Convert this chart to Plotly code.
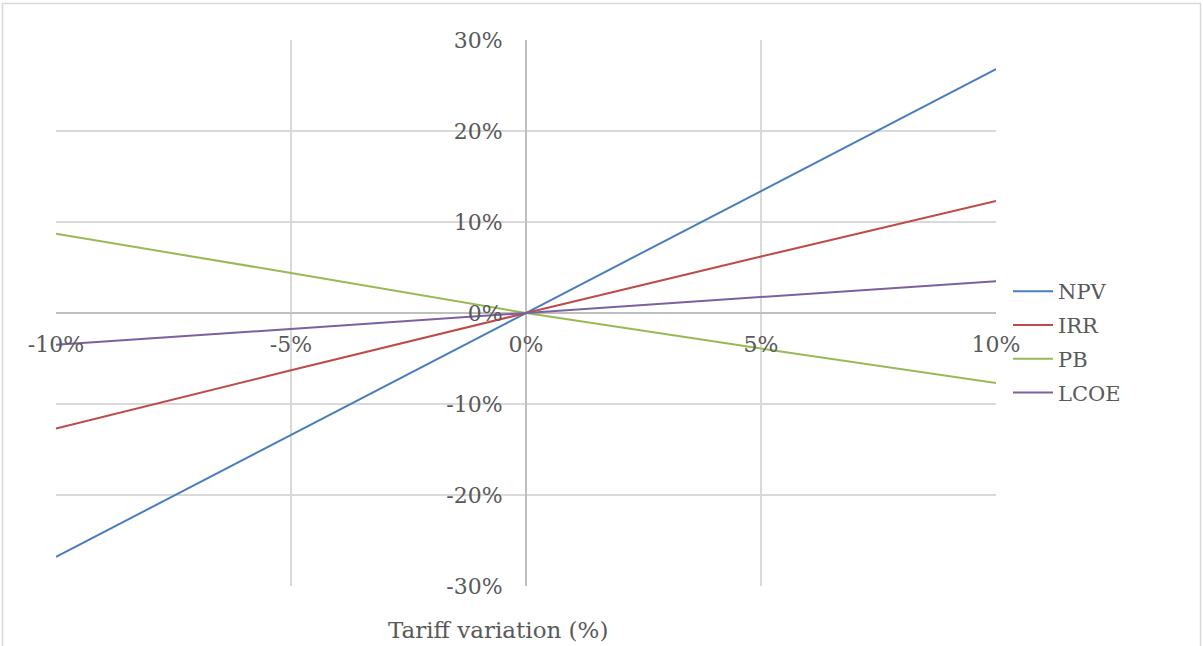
import plotly.graph_objects as go

# Tariff variation (%) and resulting change of each indicator (%)
tariff_variation = [-10, -5, 0, 5, 10]
npv = [-26.8, -13.4, 0, 13.4, 26.8]
irr = [-12.7, -6.3, 0, 6.2, 12.3]
pb = [8.7, 4.4, 0, -3.9, -7.7]
lcoe = [-3.5, -1.75, 0, 1.75, 3.5]

x_ticks = [-10, -5, 0, 5, 10]
y_ticks = [-30, -20, -10, 0, 10, 20, 30]
x_tick_text = [f"{v}%" for v in x_ticks]
y_tick_text = [f"{v}%" for v in y_ticks]

series = [
    ("NPV", npv, "#4A7EBB"),
    ("IRR", irr, "#BE4B48"),
    ("PB", pb, "#98B954"),
    ("LCOE", lcoe, "#7D60A0"),
]

FONT = "DejaVu Serif"
TEXT = "#595959"
GRID = "#D9D9D9"

fig = go.Figure()
for name, vals, color in series:
    fig.add_trace(go.Scatter(
        x=tariff_variation, y=vals, name=name, mode="lines",
        legendgroup=name,
        line=dict(color=color, width=2),
    ))

W, H = 1203, 646
L, R, T, B = 56, 207, 40, 60
pw, ph = W - L - R, H - T - B


def px_x(p):
    return (p - L) / pw


def px_y(p):
    return (H - B - p) / ph


fig.update_layout(
    width=W, height=H,
    margin=dict(l=L, r=R, t=T, b=B, pad=0),
    paper_bgcolor="white", plot_bgcolor="white",
    font=dict(family=FONT, size=22, color=TEXT),
    showlegend=True,
    legend=dict(
        x=px_x(1008), y=px_y(271), xanchor="left", yanchor="top",
        font=dict(family=FONT, size=21, color=TEXT),
        bgcolor="rgba(0,0,0,0)", tracegroupgap=3.5, itemwidth=40,
    ),
    xaxis=dict(
        range=[-10, 10], tickvals=x_ticks, ticktext=x_tick_text,
        showgrid=True, gridcolor=GRID, gridwidth=1.5,
        zeroline=True, zerolinecolor="#BFBFBF", zerolinewidth=1.5,
        showline=False, anchor="free", position=0.5,
        ticks="outside", ticklen=12, tickcolor="rgba(0,0,0,0)",
    ),
    yaxis=dict(
        range=[-30, 30], tickvals=y_ticks, ticktext=y_tick_text,
        showgrid=True, gridcolor=GRID, gridwidth=1.5,
        zeroline=True, zerolinecolor="#BFBFBF", zerolinewidth=1.5,
        showline=False, anchor="free", position=0.5,
        ticks="outside", ticklen=19, tickcolor="rgba(0,0,0,0)",
    ),
    annotations=[dict(
        text="Tariff variation (%)", xref="paper", yref="paper",
        x=px_x(498), y=px_y(630), xanchor="center", yanchor="middle",
        showarrow=False, font=dict(family=FONT, size=23, color=TEXT),
    )],
    shapes=[dict(
        type="rect", xref="paper", yref="paper", layer="below",
        x0=px_x(2.5), x1=px_x(1200.5), y0=px_y(720), y1=px_y(3.5),
        line=dict(color=GRID, width=1.5), fillcolor="rgba(0,0,0,0)",
    )],
)

fig.write_html("out.html")
